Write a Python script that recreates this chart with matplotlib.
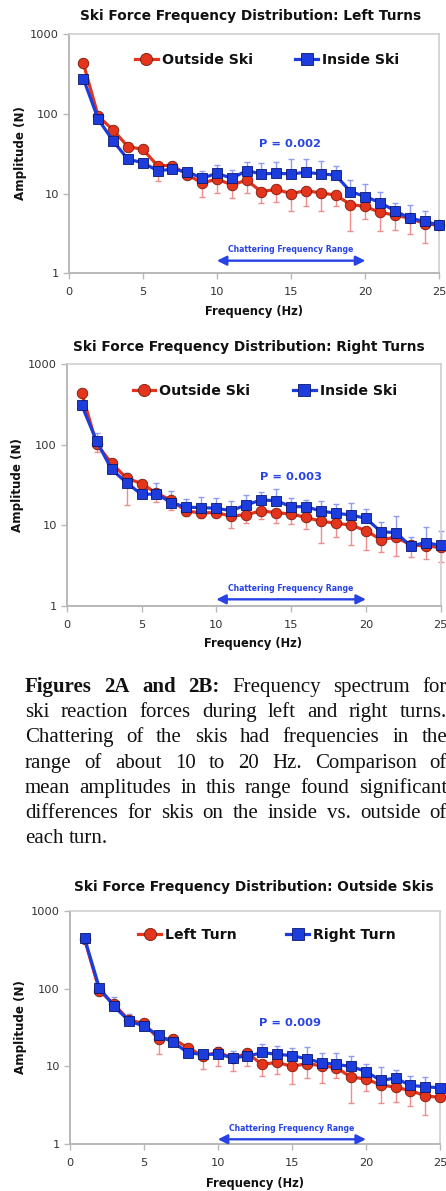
import matplotlib
matplotlib.use('Agg')
import matplotlib.pyplot as plt
import numpy as np
from matplotlib.ticker import FuncFormatter, NullLocator

# ---------------- data ----------------
freq = [1, 2, 3, 4, 5, 6, 7, 8, 9, 10, 11, 12, 13, 14, 15, 16, 17, 18, 19, 20, 21, 22, 23, 24, 25]

# Left turns
left_outside = [433, 94, 63, 39, 36, 22.5, 22.5, 17.3, 13.6, 15.2, 12.9, 14.7, 10.6, 11.3, 10.0,
                10.9, 10.2, 9.6, 7.3, 6.9, 5.8, 5.4, 4.9, 4.2, 4.0]
left_outside_lo = [433, 94, 63, 39, 36, 14.4, 22.5, 17.3, 9.2, 10.2, 8.8, 10.2, 7.6, 7.9, 6.0,
                   7.0, 6.1, 7.0, 3.4, 4.8, 3.4, 3.5, 3.1, 2.4, 4.0]
left_inside = [278, 86, 46, 27, 24.5, 19.4, 20.2, 18.9, 15.6, 18.0, 15.6, 19.4, 17.7, 18.0, 17.7,
               18.5, 17.7, 17.1, 10.6, 9.2, 7.7, 6.1, 4.9, 4.5, 4.0]
left_inside_hi = [278, 86, 46, 27, 24.5, 19.4, 20.2, 18.9, 19.4, 22.9, 19.8, 24.7, 24.0, 25.2, 27.0,
                  27.0, 26.0, 22.2, 14.8, 13.1, 10.6, 7.7, 7.1, 6.1, 4.0]

# Right turns
right_outside = [443, 102, 59, 38.5, 33, 25, 20.4, 14.9, 14.3, 14.3, 13.0, 13.5, 15.1, 14.3, 13.8,
                 12.5, 11.2, 10.6, 10.0, 8.6, 6.6, 7.1, 5.7, 5.5, 5.3]
right_outside_lo = [443, 82, 51, 17.9, 28.8, 19.6, 15.5, 13.0, 12.2, 12.8, 9.3, 10.6, 11.8, 10.6, 10.3,
                    9.0, 6.1, 7.2, 5.7, 4.9, 4.6, 4.1, 4.0, 3.8, 3.5]
right_outside_hi = [443, 102, 78.6, 46.6, 33, 25, 20.4, 14.9, 14.3, 17.9, 15.9, 15.5, 19.4, 18.3, 17.1,
                    17.9, 15.0, 15.0, 13.6, 10.6, 9.7, 9.0, 7.6, 7.4, 5.3]
right_inside = [312, 111, 49.5, 33.8, 24.2, 24.4, 19.1, 16.7, 16.6, 16.2, 15.2, 17.9, 20.6, 20.2, 17.0,
                17.0, 15.0, 14.1, 13.4, 12.2, 8.3, 8.1, 5.5, 6.1, 5.6]
right_inside_hi = [312, 139, 49.5, 45, 24.2, 33.8, 26.6, 21.2, 22.6, 21.6, 20.2, 23.8, 25.7, 28.3, 21.6,
                   20.6, 20.2, 18.3, 19.1, 15.9, 10.9, 13.0, 7.1, 9.6, 8.6]

x_ticks = [0, 5, 10, 15, 20, 25]
y_ticks = [1, 10, 100, 1000]

titles = ["Ski Force Frequency Distribution: Left Turns",
          "Ski Force Frequency Distribution: Right Turns",
          "Ski Force Frequency Distribution: Outside Skis"]
p_values = ["P = 0.002", "P = 0.003", "P = 0.009"]
legend_labels = [("Outside Ski", "Inside Ski"), ("Outside Ski", "Inside Ski"), ("Left Turn", "Right Turn")]
chatter_label = "Chattering Frequency Range"
chatter_range = (10, 20)

caption_lines = [
    [("Figures", "bold"), ("2A", "bold"), ("and", "bold"), ("2B:", "bold"),
     ("Frequency", "normal"), ("spectrum", "normal"), ("for", "normal")],
    "ski reaction forces during left and right turns.",
    "Chattering of the skis had frequencies in the",
    "range of about 10 to 20 Hz. Comparison of",
    "mean amplitudes in this range found significant",
    "differences for skis on the inside vs. outside of",
    "each turn.",
]

# ---------------- style ----------------
W, H = 446, 1191
fig = plt.figure(figsize=(W / 100, H / 100), dpi=100)
fig.patch.set_facecolor('white')

RED = '#e3341c'
RED_EDGE = '#7a1a0c'
RED_ERR = '#f08e8e'
BLUE = '#1c3ddc'
BLUE_EDGE = '#0a1670'
BLUE_ERR = '#8f9cf0'
TXT_BLUE = '#2743e6'
GRID = '#b8b8b8'


def fx(px):
    return px / W


def fy(py):
    return 1 - py / H


def panel(rect, title, title_xy, xlabel_xy, ylabel_xy, s1, s1_lo, s2, s2_hi, labels,
          ptxt, p_xy, leg_anchor, colspace, chat_y, arrow_y):
    l, t, r, b = rect
    ax = fig.add_axes([fx(l), fy(b), fx(r - l), (b - t) / H])
    ax.set_yscale('log')
    ax.set_xlim(0, 25)
    ax.set_ylim(1, 1000)

    s1 = np.asarray(s1, float)
    s2 = np.asarray(s2, float)
    lo = s1 - np.asarray(s1_lo, float)
    hi = np.asarray(s2_hi, float) - s2
    zeros = np.zeros_like(s1)
    ax.errorbar(freq, s1, yerr=[lo, zeros], fmt='none', ecolor=RED_ERR, elinewidth=1.0,
                capsize=2.5, capthick=1.0, zorder=1, clip_on=False)
    ax.errorbar(freq, s2, yerr=[zeros, hi], fmt='none', ecolor=BLUE_ERR, elinewidth=1.0,
                capsize=2.5, capthick=1.0, zorder=1, clip_on=False)
    h1, = ax.plot(freq, s1, '-o', color=RED, lw=2.3, ms=7.6, mfc=RED, mec=RED_EDGE, mew=0.6,
                  zorder=3, clip_on=False, label=labels[0])
    h2, = ax.plot(freq, s2, '-s', color=BLUE, lw=2.3, ms=7.2, mfc=BLUE, mec=BLUE_EDGE, mew=0.6,
                  zorder=4, clip_on=False, label=labels[1])

    ax.set_xticks(x_ticks)
    ax.set_yticks(y_ticks)
    ax.yaxis.set_major_formatter(FuncFormatter(lambda v, p: f'{v:g}'))
    ax.yaxis.set_minor_locator(NullLocator())
    ax.xaxis.set_minor_locator(NullLocator())
    ax.tick_params(axis='both', labelsize=8.2, labelcolor='#333333', color=GRID, length=4, width=1)
    ax.tick_params(axis='x', pad=6)
    ax.tick_params(axis='y', pad=3)
    for side in ['left', 'bottom']:
        ax.spines[side].set_color(GRID)
        ax.spines[side].set_linewidth(1.4)
    for side in ['top', 'right']:
        ax.spines[side].set_color('#cfcfcf')
        ax.spines[side].set_linewidth(1.2)

    leg = ax.legend(handles=[h1, h2], ncol=2, frameon=False, loc='center left',
                    bbox_to_anchor=leg_anchor, prop={'weight': 'bold', 'size': 10.2},
                    handlelength=1.6, handletextpad=0.3, columnspacing=colspace,
                    borderaxespad=0, borderpad=0, markerscale=1.15)
    for txt in leg.get_texts():
        txt.set_color('#111111')

    ax.text(p_xy[0], p_xy[1], ptxt, ha='center', va='center', fontsize=8.2, weight='bold',
            color=TXT_BLUE)
    ax.text(sum(chatter_range) / 2, chat_y, chatter_label, ha='center', va='center',
            fontsize=5.6, weight='bold', color=TXT_BLUE)
    ax.annotate('', xy=(chatter_range[1], arrow_y), xytext=(chatter_range[0], arrow_y),
                arrowprops=dict(arrowstyle='<|-|>', color=TXT_BLUE, lw=1.7,
                                mutation_scale=14, shrinkA=0, shrinkB=0))

    fig.text(fx(title_xy[0]), fy(title_xy[1]), title, ha='center', va='center',
             fontsize=9.9, weight='bold', color='#111111')
    fig.text(fx(xlabel_xy[0]), fy(xlabel_xy[1]), 'Frequency (Hz)', ha='center', va='center',
             fontsize=8.3, weight='bold', color='#111111')
    fig.text(fx(ylabel_xy[0]), fy(ylabel_xy[1]), 'Amplitude (N)', ha='center', va='center',
             fontsize=8.6, weight='bold', color='#111111', rotation=90)
    return ax


panel((68.5, 34.3, 439.5, 273.3), titles[0], (251, 16), (254, 312), (20.5, 153),
      left_outside, left_outside_lo, left_inside, left_inside_hi, legend_labels[0],
      p_values[0], (14.9, 42), (0.179, 0.893), 3.0, 2.0, 1.44)

panel((66.7, 364.3, 440.7, 605.7), titles[1], (249, 347), (253, 644), (17.5, 485),
      right_outside, right_outside_lo, right_inside, right_inside_hi, legend_labels[1],
      p_values[1], (15.0, 40), (0.176, 0.889), 3.0, 1.64, 1.2)

panel((69.7, 910.7, 440.0, 1144.3), titles[2], (254, 887), (255, 1183), (21, 1027),
      left_outside, left_outside_lo, right_outside, right_outside_hi, legend_labels[2],
      p_values[2], (14.85, 36.5), (0.185, 0.896), 3.5, 1.6, 1.16)

# ---------------- caption (justified) ----------------
renderer = fig.canvas.get_renderer()
CAP_FS = 15
CAP_FAMILY = 'Liberation Serif'
L_EDGE, R_EDGE = 25, 447
base0, step = 691.8, 25.25


def measure(word, weight):
    t = fig.text(0, 0, word, fontsize=CAP_FS, family=CAP_FAMILY, weight=weight)
    w = t.get_window_extent(renderer).width
    t.remove()
    return w


for i, line in enumerate(caption_lines):
    if isinstance(line, str):
        words = [(w, 'normal') for w in line.split()]
    else:
        words = line
    y = base0 + i * step
    widths = [measure(w, wt) for w, wt in words]
    last = (i == len(caption_lines) - 1)
    if last or len(words) == 1:
        gap = measure('a b', 'normal') - measure('ab', 'normal')
    else:
        gap = (R_EDGE - L_EDGE - sum(widths)) / (len(words) - 1)
    x = L_EDGE
    for (w, wt), wd in zip(words, widths):
        fig.text(fx(x), fy(y), w, fontsize=CAP_FS, family=CAP_FAMILY, weight=wt,
                 ha='left', va='baseline', color='#111111')
        x += wd + gap

fig.savefig('out.png', dpi=100, facecolor='white')
